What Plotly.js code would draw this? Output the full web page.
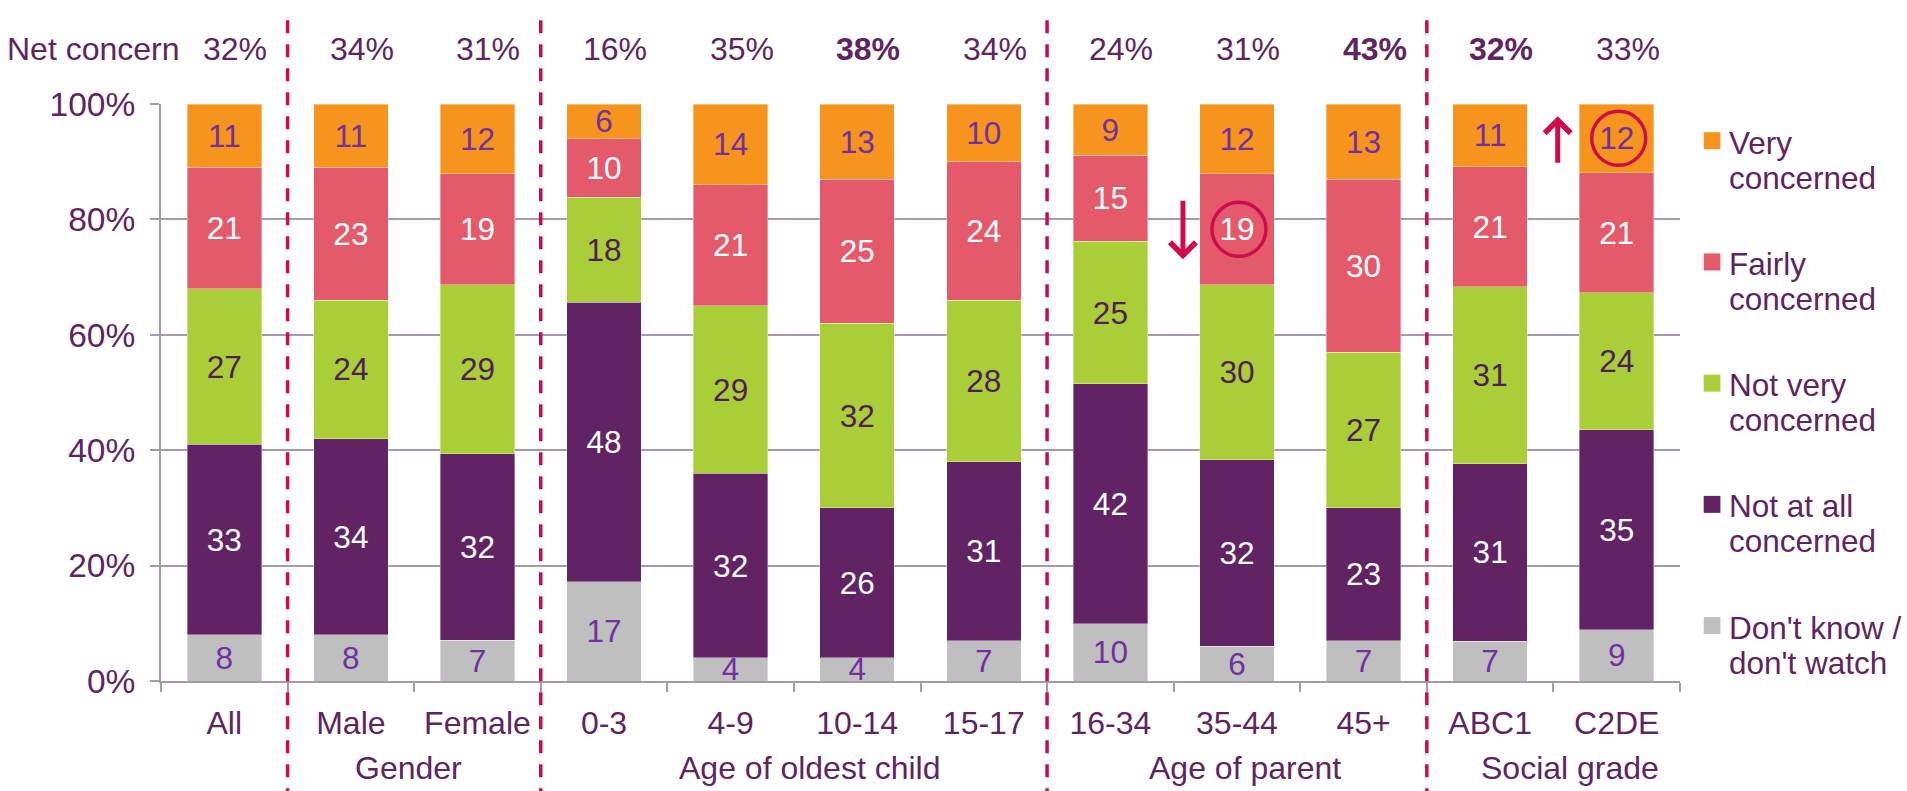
<!DOCTYPE html>
<html><head><meta charset="utf-8">
<script src="https://cdn.plot.ly/plotly-3.0.1.min.js"></script>
<style>html,body{margin:0;padding:0;background:#fff}#chart{width:1907px;height:791px}</style>
</head><body><div id="chart"></div>
<script>
// ---------- data ----------
const categories = ['All','Male','Female','0-3','4-9','10-14','15-17','16-34','35-44','45+','ABC1','C2DE'];
const dontKnow   = [8, 8, 7, 17, 4, 4, 7, 10, 6, 7, 7, 9];
const notAtAll   = [33, 34, 32, 48, 32, 26, 31, 42, 32, 23, 31, 35];
const notVery    = [27, 24, 29, 18, 29, 32, 28, 25, 30, 27, 31, 24];
const fairly     = [21, 23, 19, 10, 21, 25, 24, 15, 19, 30, 21, 21];
const very       = [11, 11, 12, 6, 14, 13, 10, 9, 12, 13, 11, 12];
const netConcern = [32, 34, 31, 16, 35, 38, 34, 24, 31, 43, 32, 33];
const netBold    = [false, false, false, false, false, true, false, false, false, true, true, false];
const groupNames = ['Gender', 'Age of oldest child', 'Age of parent', 'Social grade'];
const groupFirst = ['Male', '0-3', '16-34', 'ABC1'];
const groupLast  = ['Female', '15-17', '45+', 'C2DE'];
const seriesNames = ["Don't know /|don't watch", 'Not at all|concerned', 'Not very|concerned', 'Fairly|concerned', 'Very|concerned'];
const seriesValues = [dontKnow, notAtAll, notVery, fairly, very];
// significant differences: category, series index, direction
const sigCats = ['35-44', 'C2DE'];
const sigSeries = [3, 4];
const sigDir = ['down', 'up'];

// ---------- styles ----------
const FONT = '"Liberation Sans", Arial, sans-serif';
const PURPLE = '#5F2461';
const GRID = '#A898AD';
const RED = '#CC0C4C';
const colors = ['#BFBFBF', '#612363', '#A9CE38', '#E55A6B', '#F7941E'];
const labelColors = ['#7030A0', '#FFFFFF', '#4F1D5A', '#FFFFFF', '#7030A0'];
const groupShift = [-6, 16, 8, 17];

const traces = seriesValues.map((vals, i) => ({
  type: 'bar',
  name: seriesNames[i].replace('|', ' '),
  x: categories,
  y: vals,
  text: vals.map(String),
  texttemplate: '%{text}',
  textposition: 'inside',
  insidetextanchor: 'middle',
  textangle: 0,
  constraintext: 'none',
  insidetextfont: {family: FONT, size: 31.5, color: labelColors[i]},
  marker: {color: colors[i], line: {width: 0.6, color: 'rgba(255,255,255,0.6)'}},
  hoverinfo: 'x+name+text'
}));

const annotations = [];
const shapes = [];

// Net concern row
annotations.push({xref: 'paper', yref: 'paper', x: 0.0138, y: 1.0957, xanchor: 'right', yanchor: 'middle',
  text: 'Net concern', showarrow: false, font: {family: FONT, size: 32, color: PURPLE}});
categories.forEach((c, i) => {
  annotations.push({xref: 'x', yref: 'paper', x: c, y: 1.0957, xanchor: 'center', yanchor: 'middle', xshift: 11,
    text: netBold[i] ? '<b>' + netConcern[i] + '%</b>' : netConcern[i] + '%',
    showarrow: false, font: {family: FONT, size: 32, color: PURPLE}});
});

// Group labels and dashed dividers
groupNames.forEach((g, i) => {
  const a = categories.indexOf(groupFirst[i]);
  const b = categories.indexOf(groupLast[i]);
  annotations.push({xref: 'x', yref: 'paper', x: (a + b) / 2, y: -0.1508, xanchor: 'center', yanchor: 'middle',
    xshift: groupShift[i], text: g, showarrow: false, font: {family: FONT, size: 32, color: PURPLE}});
  shapes.push({type: 'line', xref: 'x', yref: 'paper', x0: a - 0.5, x1: a - 0.5, y0: -0.25, y1: 1.16,
    line: {color: RED, width: 3.5, dash: '13px,11px'}});
});

// Significance circles and arrows
sigCats.forEach((c, k) => {
  const ci = categories.indexOf(c);
  const s = sigSeries[k];
  let total = 0, below = 0;
  seriesValues.forEach((v, j) => { total += v[ci]; if (j < s) below += v[ci]; });
  const mid = (below + seriesValues[s][ci] / 2) / total * 100;
  shapes.push({type: 'circle', xref: 'x', yref: 'y', xsizemode: 'pixel', ysizemode: 'pixel',
    xanchor: ci, yanchor: mid, x0: -25, x1: 29, y0: -27, y1: 27,
    line: {color: RED, width: 3.4}, fillcolor: 'rgba(0,0,0,0)'});
  const down = sigDir[k] === 'down';
  annotations.push({xref: 'x', yref: 'y', x: c, y: mid, xshift: down ? -54 : -59, yshift: down ? -30 : 22,
    ax: 0, ay: down ? -60 : 48, text: '', showarrow: true, arrowhead: 4, arrowsize: 1, arrowwidth: 5,
    arrowcolor: RED, standoff: 0});
});

// Legend (top: Very concerned ... bottom: Don't know)
const PLOT_H = 577;
for (let r = 0; r < 5; r++) {
  const i = 4 - r;
  const yc = 0.9364 - r * 0.2101;
  shapes.push({type: 'rect', xref: 'paper', yref: 'paper', x0: 1.0156, x1: 1.0266,
    y0: yc - 8.5 / PLOT_H, y1: yc + 8.5 / PLOT_H, fillcolor: colors[i], line: {width: 0}});
  const lines = seriesNames[i].split('|');
  lines.forEach((t, li) => {
    annotations.push({xref: 'paper', yref: 'paper', x: 1.0311, y: yc - (2 + li * 35) / PLOT_H,
      xanchor: 'left', yanchor: 'middle', text: t, showarrow: false,
      font: {family: FONT, size: 31.5, color: PURPLE}});
  });
}

const layout = {
  width: 1907, height: 791,
  margin: {l: 161, r: 227, t: 104, b: 110},
  paper_bgcolor: '#FFFFFF', plot_bgcolor: '#FFFFFF',
  barmode: 'stack', barnorm: 'percent', bargap: 0.412,
  showlegend: false,
  font: {family: FONT, color: PURPLE},
  xaxis: {type: 'category', range: [-0.5, 11.5], tickson: 'boundaries', ticks: 'outside', ticklen: 9,
    tickcolor: GRID, tickwidth: 1.5, showline: true, linecolor: GRID, linewidth: 2, showgrid: false,
    tickfont: {family: FONT, size: 32, color: PURPLE}, ticklabelstandoff: 13, fixedrange: true},
  yaxis: {range: [0, 100], dtick: 20, ticksuffix: '%', showgrid: true, gridcolor: GRID, gridwidth: 1.5,
    showline: true, linecolor: GRID, linewidth: 2, ticks: 'outside', ticklen: 9, tickcolor: GRID, tickwidth: 1.5,
    zeroline: false, tickfont: {family: FONT, size: 33.5, color: PURPLE}, ticklabelstandoff: 8, fixedrange: true},
  annotations: annotations,
  shapes: shapes
};

Plotly.newPlot('chart', traces, layout, {displayModeBar: false});
</script>
</body></html>
